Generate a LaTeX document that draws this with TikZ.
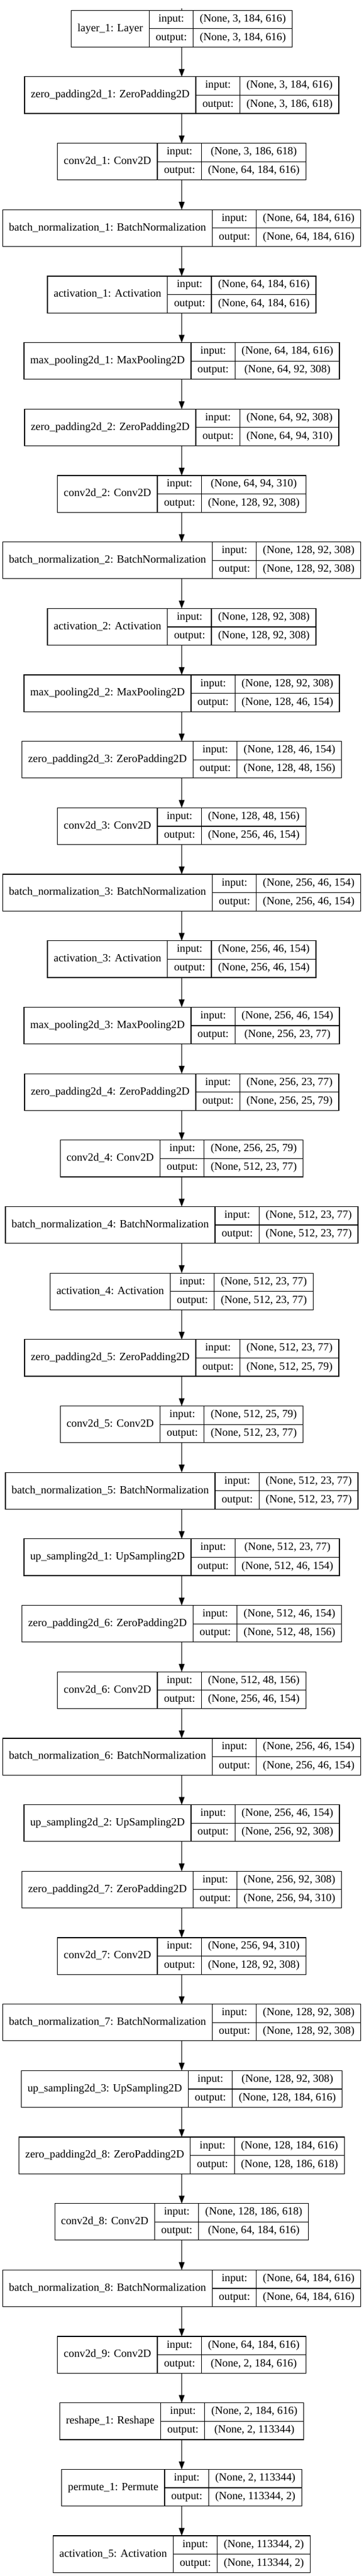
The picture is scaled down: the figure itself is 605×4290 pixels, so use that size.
\documentclass[tikz,border=0pt]{standalone}
\usepackage{fontspec}
\setmainfont{Liberation Serif}
\usetikzlibrary{arrows.meta}
\setlength\arrayrulewidth{1.2pt}
\newcommand\kfont{\fontsize{18.3pt}{22pt}\selectfont}
\newcommand\kst{\rule[-11pt]{0pt}{30pt}}
\newcommand\kcell[3]{\kfont\setlength\tabcolsep{10.4pt}%
  \begin{tabular}{@{\hspace{10.4pt}}c@{\hspace{10.4pt}}|@{}c@{}|@{}c@{}}
  #1 & \begin{tabular}{c}\kst input:\\\hline\kst output:\end{tabular} &
       \begin{tabular}{c}\kst #2\\\hline\kst #3\end{tabular}
  \end{tabular}}
\tikzset{
  lbox/.style={draw=black, line width=1.2pt, inner sep=0pt, outer sep=0pt},
  flow/.style={draw=black, line width=1.2pt, -{Triangle[length=13pt,width=9.5pt]}},
  sepline/.style={draw=black, line width=1.2pt},
}
\newcommand\klayer[5]{%
  \node[lbox] (#1) at (302.5,47.8+#2*110.68) {\kcell{#3}{#4}{#5}};
}
\begin{document}
\begin{tikzpicture}[x=1pt,y=-1pt]
\fill[white] (0,0) rectangle (605,4290);
\useasboundingbox (0,0) rectangle (605,4290);
\klayer{L1}{0}{layer\_1: Layer}{(None, 3, 184, 616)}{(None, 3, 184, 616)}
\klayer{L2}{1}{zero\_padding2d\_1: ZeroPadding2D}{(None, 3, 184, 616)}{(None, 3, 186, 618)}
\klayer{L3}{2}{conv2d\_1: Conv2D}{(None, 3, 186, 618)}{(None, 64, 184, 616)}
\klayer{L4}{3}{batch\_normalization\_1: BatchNormalization}{(None, 64, 184, 616)}{(None, 64, 184, 616)}
\klayer{L5}{4}{activation\_1: Activation}{(None, 64, 184, 616)}{(None, 64, 184, 616)}
\klayer{L6}{5}{max\_pooling2d\_1: MaxPooling2D}{(None, 64, 184, 616)}{(None, 64, 92, 308)}
\klayer{L7}{6}{zero\_padding2d\_2: ZeroPadding2D}{(None, 64, 92, 308)}{(None, 64, 94, 310)}
\klayer{L8}{7}{conv2d\_2: Conv2D}{(None, 64, 94, 310)}{(None, 128, 92, 308)}
\klayer{L9}{8}{batch\_normalization\_2: BatchNormalization}{(None, 128, 92, 308)}{(None, 128, 92, 308)}
\klayer{L10}{9}{activation\_2: Activation}{(None, 128, 92, 308)}{(None, 128, 92, 308)}
\klayer{L11}{10}{max\_pooling2d\_2: MaxPooling2D}{(None, 128, 92, 308)}{(None, 128, 46, 154)}
\klayer{L12}{11}{zero\_padding2d\_3: ZeroPadding2D}{(None, 128, 46, 154)}{(None, 128, 48, 156)}
\klayer{L13}{12}{conv2d\_3: Conv2D}{(None, 128, 48, 156)}{(None, 256, 46, 154)}
\klayer{L14}{13}{batch\_normalization\_3: BatchNormalization}{(None, 256, 46, 154)}{(None, 256, 46, 154)}
\klayer{L15}{14}{activation\_3: Activation}{(None, 256, 46, 154)}{(None, 256, 46, 154)}
\klayer{L16}{15}{max\_pooling2d\_3: MaxPooling2D}{(None, 256, 46, 154)}{(None, 256, 23, 77)}
\klayer{L17}{16}{zero\_padding2d\_4: ZeroPadding2D}{(None, 256, 23, 77)}{(None, 256, 25, 79)}
\klayer{L18}{17}{conv2d\_4: Conv2D}{(None, 256, 25, 79)}{(None, 512, 23, 77)}
\klayer{L19}{18}{batch\_normalization\_4: BatchNormalization}{(None, 512, 23, 77)}{(None, 512, 23, 77)}
\klayer{L20}{19}{activation\_4: Activation}{(None, 512, 23, 77)}{(None, 512, 23, 77)}
\klayer{L21}{20}{zero\_padding2d\_5: ZeroPadding2D}{(None, 512, 23, 77)}{(None, 512, 25, 79)}
\klayer{L22}{21}{conv2d\_5: Conv2D}{(None, 512, 25, 79)}{(None, 512, 23, 77)}
\klayer{L23}{22}{batch\_normalization\_5: BatchNormalization}{(None, 512, 23, 77)}{(None, 512, 23, 77)}
\klayer{L24}{23}{up\_sampling2d\_1: UpSampling2D}{(None, 512, 23, 77)}{(None, 512, 46, 154)}
\klayer{L25}{24}{zero\_padding2d\_6: ZeroPadding2D}{(None, 512, 46, 154)}{(None, 512, 48, 156)}
\klayer{L26}{25}{conv2d\_6: Conv2D}{(None, 512, 48, 156)}{(None, 256, 46, 154)}
\klayer{L27}{26}{batch\_normalization\_6: BatchNormalization}{(None, 256, 46, 154)}{(None, 256, 46, 154)}
\klayer{L28}{27}{up\_sampling2d\_2: UpSampling2D}{(None, 256, 46, 154)}{(None, 256, 92, 308)}
\klayer{L29}{28}{zero\_padding2d\_7: ZeroPadding2D}{(None, 256, 92, 308)}{(None, 256, 94, 310)}
\klayer{L30}{29}{conv2d\_7: Conv2D}{(None, 256, 94, 310)}{(None, 128, 92, 308)}
\klayer{L31}{30}{batch\_normalization\_7: BatchNormalization}{(None, 128, 92, 308)}{(None, 128, 92, 308)}
\klayer{L32}{31}{up\_sampling2d\_3: UpSampling2D}{(None, 128, 92, 308)}{(None, 128, 184, 616)}
\klayer{L33}{32}{zero\_padding2d\_8: ZeroPadding2D}{(None, 128, 184, 616)}{(None, 128, 186, 618)}
\klayer{L34}{33}{conv2d\_8: Conv2D}{(None, 128, 186, 618)}{(None, 64, 184, 616)}
\klayer{L35}{34}{batch\_normalization\_8: BatchNormalization}{(None, 64, 184, 616)}{(None, 64, 184, 616)}
\klayer{L36}{35}{conv2d\_9: Conv2D}{(None, 64, 184, 616)}{(None, 2, 184, 616)}
\klayer{L37}{36}{reshape\_1: Reshape}{(None, 2, 184, 616)}{(None, 2, 113344)}
\klayer{L38}{37}{permute\_1: Permute}{(None, 2, 113344)}{(None, 113344, 2)}
\klayer{L39}{38}{activation\_5: Activation}{(None, 113344, 2)}{(None, 113344, 2)}
\coordinate (top) at (302.5,14.5);
\draw[sepline] (top) -- (L1.north);
\foreach \i [evaluate=\i as \j using int(\i+1)] in {1,...,38}{
  \draw[flow] (L\i.south) -- (L\j.north);
}
\end{tikzpicture}
\end{document}
